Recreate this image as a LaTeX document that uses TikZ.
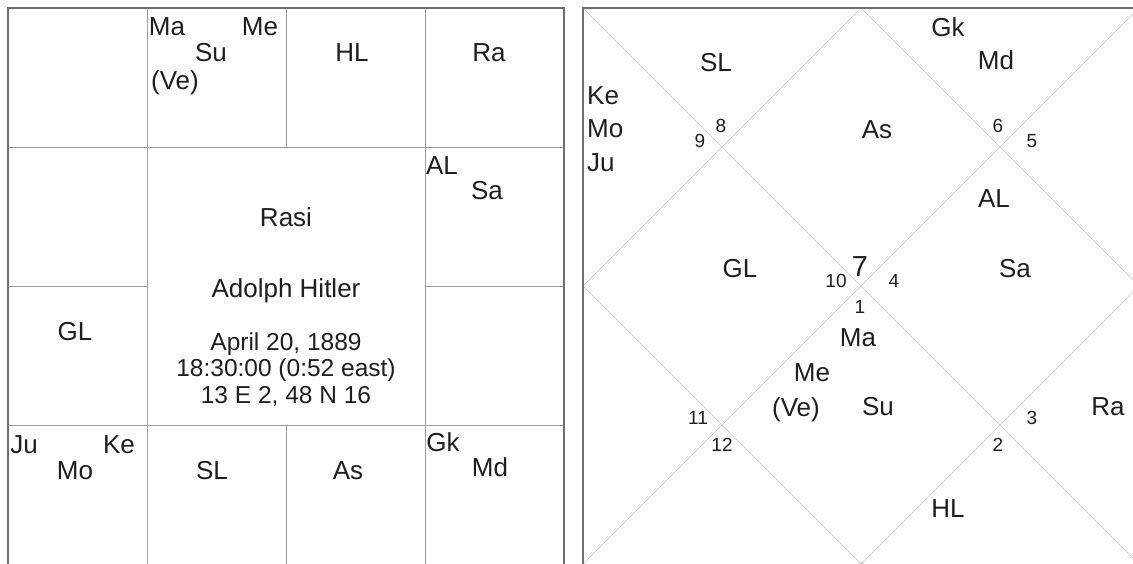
\documentclass[tikz,border=0pt]{standalone}
\usepackage{fontspec}
\setmainfont{Liberation Sans}
\usepackage{xcolor}
\definecolor{framegray}{HTML}{6E6E6E}
\definecolor{gridgray}{HTML}{9C9C9C}
\definecolor{diaggray}{HTML}{C4C4C4}
\definecolor{inkgray}{HTML}{1E1E1E}

\begin{document}
\begin{tikzpicture}[x=1pt, y=-1pt,
    lbl/.style={inner sep=0pt, text=inkgray, text height=18.5pt, text depth=0pt,
        font=\fontsize{26}{26}\selectfont},
    info/.style={inner sep=0pt, text=inkgray, text height=17.5pt, text depth=0pt,
        font=\fontsize{24.5}{24.5}\selectfont},
    num/.style={inner sep=0pt, text=inkgray, text height=13.5pt, text depth=0pt,
        font=\fontsize{19}{19}\selectfont},
    bignum/.style={inner sep=0pt, text=inkgray, text height=21pt, text depth=0pt,
        font=\fontsize{29}{29}\selectfont}]
    \useasboundingbox (0,0) rectangle (1133,563);
    \clip (0,0) rectangle (1133,563);

    % Rasi chart: grid
    \draw[gridgray] (147,8) -- (147,564);
    \draw[gridgray] (425,8) -- (425,564);
    \draw[gridgray] (8,147) -- (564,147);
    \draw[gridgray] (8,425) -- (564,425);
    \draw[gridgray] (286,8) -- (286,147) (286,425) -- (286,564);
    \draw[gridgray] (8,286) -- (147,286) (425,286) -- (564,286);
    \draw[framegray, line width=2pt] (8,8) rectangle (564,565.5);

    % Rasi chart: planets
    \node[lbl] (rMa) at (167,26) {Ma};
    \node[lbl] (rMe) at (260,26) {Me};
    \node[lbl] (rSu) at (211,52) {Su};
    \node[lbl] (rVe) at (175,80) {(Ve)};
    \node[lbl] (rHL) at (352,52) {HL};
    \node[lbl] (rRa) at (489,52) {Ra};
    \node[lbl] (rAL) at (442,165) {AL};
    \node[lbl] (rSa) at (487,190) {Sa};
    \node[lbl] (rGL) at (75,331) {GL};
    \node[lbl] (rJu) at (24,444) {Ju};
    \node[lbl] (rKe) at (119,444) {Ke};
    \node[lbl] (rMo) at (75,470) {Mo};
    \node[lbl] (rSL) at (212,470) {SL};
    \node[lbl] (rAs) at (348,470) {As};
    \node[lbl] (rGk) at (443,442) {Gk};
    \node[lbl] (rMd) at (490,467) {Md};

    % Rasi chart: centre box
    \node[lbl] (title) at (286,217) {Rasi};
    \node[lbl] (person) at (286,288) {Adolph Hitler};
    \node[info] (date) at (286,342) {April 20, 1889};
    \node[info] (time) at (286,368) {18:30:00 (0:52 east)};
    \node[info] (place) at (286,395) {13 E 2, 48 N 16};

    % Diamond chart: lines
    \draw[diaggray] (583,8) -- (1139,564) (1139,8) -- (583,564);
    \draw[diaggray] (861,8) -- (1139,286) -- (861,564) -- (583,286) -- cycle;
    \draw[framegray, line width=2pt] (583,8) rectangle (1139,565.5);

    % Diamond chart: house numbers
    \node[bignum] (h7) at (860,266) {7};
    \node[num] (h10) at (836,281) {10};
    \node[num] (h4) at (894,281) {4};
    \node[num] (h1) at (860,307) {1};
    \node[num] (h9) at (700,141) {9};
    \node[num] (h8) at (721,126) {8};
    \node[num] (h6) at (998,126) {6};
    \node[num] (h5) at (1032,141) {5};
    \node[num] (h11) at (698,418) {11};
    \node[num] (h12) at (722,445) {12};
    \node[num] (h3) at (1032,418) {3};
    \node[num] (h2) at (998,445) {2};

    % Diamond chart: planets
    \node[lbl] (dSL) at (716,62) {SL};
    \node[lbl, anchor=west] (dKe) at (587,95) {Ke};
    \node[lbl, anchor=west] (dMo) at (587,128) {Mo};
    \node[lbl, anchor=west] (dJu) at (587,162) {Ju};
    \node[lbl] (dGk) at (948,27) {Gk};
    \node[lbl] (dMd) at (996,60) {Md};
    \node[lbl] (dAs) at (877,129) {As};
    \node[lbl] (dAL) at (994,198) {AL};
    \node[lbl] (dSa) at (1015,268) {Sa};
    \node[lbl] (dGL) at (740,268) {GL};
    \node[lbl] (dMa) at (858,337) {Ma};
    \node[lbl] (dMe) at (812,372) {Me};
    \node[lbl] (dVe) at (796,407) {(Ve)};
    \node[lbl] (dSu) at (878,406) {Su};
    \node[lbl] (dRa) at (1108,406) {Ra};
    \node[lbl] (dHL) at (948,508) {HL};
\end{tikzpicture}
\end{document}
